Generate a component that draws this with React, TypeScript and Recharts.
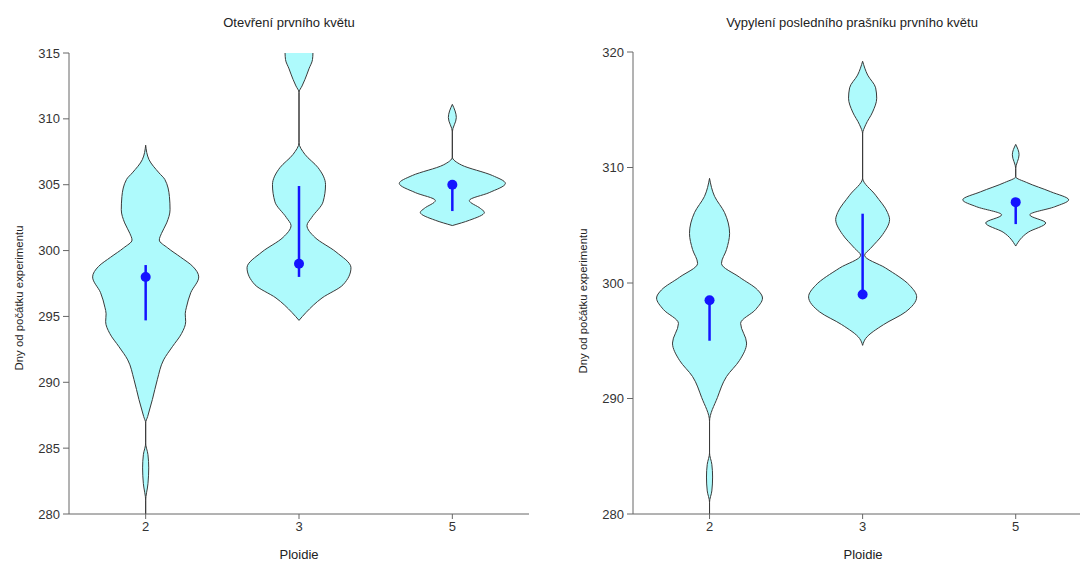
import React from 'react';
import { ComposedChart, Area, Scatter, XAxis, YAxis } from 'recharts';

const ploidyLabels = ['2', '3', '5'];

// violin outlines: [days, half-width in category units]
const openDiploid: [number, number][] = [
  [308.0, 0], [306.9, 0.022], [305.9, 0.087], [305.4, 0.125], [304.1, 0.155], [303.1, 0.159],
  [302.1, 0.137], [301.3, 0.103], [300.8, 0.089], [300.2, 0.144], [299.5, 0.228], [298.8, 0.307],
  [298.0, 0.346], [296.8, 0.294], [295.7, 0.266], [295.2, 0.258], [294.6, 0.261], [293.7, 0.234],
  [292.7, 0.174], [291.7, 0.117], [290.2, 0.076], [288.7, 0.044], [287.4, 0.013], [286.9, 0],
  [285.4, 0], [284.5, 0.015], [283.5, 0.02], [282.3, 0.015], [281.0, 0], [280.0, 0],
];
const openTriploid: [number, number][] = [
  [315.0, 0.091], [314.5, 0.088], [313.8, 0.065], [313.0, 0.039], [312.5, 0.02], [312.0, 0],
  [308.2, 0], [307.3, 0.039], [306.3, 0.124], [305.0, 0.173], [303.7, 0.157], [302.5, 0.082],
  [301.9, 0.052], [301.0, 0.104], [299.9, 0.241], [298.7, 0.339], [297.4, 0.287], [296.4, 0.15],
  [295.3, 0.046], [294.7, 0],
];
const openPentaploid: [number, number][] = [
  [311.1, 0], [310.1, 0.026], [309.0, 0], [307.1, 0], [306.5, 0.059], [305.7, 0.261],
  [305.1, 0.346], [304.4, 0.241], [303.8, 0.111], [303.2, 0.183], [302.9, 0.209], [302.3, 0.111],
  [301.9, 0],
];
const openMedian = [298.0, 299.0, 305.0];
const openQ1 = [294.7, 298.0, 303.0];
const openQ3 = [298.9, 304.9, 305.0];
const openTicks = [280, 285, 290, 295, 300, 305, 310, 315];

const anthDiploid: [number, number][] = [
  [309.06, 0], [307.5, 0.033], [306.1, 0.098], [304.3, 0.131], [302.9, 0.111], [301.7, 0.078],
  [300.5, 0.196], [299.4, 0.314], [298.7, 0.346], [297.7, 0.301], [296.5, 0.203], [294.8, 0.242],
  [293.3, 0.196], [291.9, 0.111], [290.1, 0.052], [288.0, 0], [285.3, 0], [284.3, 0.015],
  [283.2, 0.02], [282.0, 0.015], [281.0, 0], [280.0, 0],
];
const anthTriploid: [number, number][] = [
  [319.2, 0], [318.0, 0.033], [316.9, 0.085], [316.0, 0.092], [314.8, 0.065], [313.7, 0.02],
  [312.9, 0], [309.1, 0], [307.6, 0.085], [306.1, 0.163], [305.5, 0.176], [304.2, 0.131],
  [303.0, 0.052], [302.4, 0.013], [301.3, 0.15], [299.8, 0.307], [298.8, 0.353], [297.5, 0.281],
  [296.4, 0.137], [295.2, 0.02], [294.6, 0],
];
const anthPentaploid: [number, number][] = [
  [312.0, 0], [311.1, 0.022], [309.9, 0], [309.2, 0], [308.7, 0.072], [307.9, 0.229],
  [307.2, 0.346], [306.6, 0.255], [305.9, 0.092], [305.2, 0.196], [304.4, 0.082], [303.2, 0],
];
const anthMedian = [298.5, 299.0, 307.0];
const anthQ1 = [295.0, 299.0, 305.1];
const anthQ3 = [298.5, 306.0, 307.0];
const anthTicks = [280, 290, 300, 310, 320];

const FONT = '"Liberation Sans", Arial, sans-serif';
const FILL = '#aefafc';
const BLUE = '#1414ff';

type PanelProps = {
  title: string;
  shapes: [number, number][][];
  median: number[];
  q1: number[];
  q3: number[];
  ticks: number[];
  left: number;
  width: number;
  top: number;
  xMax: number;
  titleX: number;
  labelY: number;
};

function Panel({ title, shapes, median, q1, q3, ticks, left, width, top, xMax, titleX, labelY }: PanelProps) {
  const violins = shapes.map((s, i) => s.map(([v, w]) => ({ v, range: [i + 1 - w, i + 1 + w] })));
  const dots = median.map((v, i) => ({ x: i + 1, v }));
  const iqr = median.map((_, i) => [{ x: i + 1, v: q1[i] }, { x: i + 1, v: q3[i] }]);
  const plotLeft = left + 69;
  return (
    <>
      <div style={{ position: 'absolute', left: titleX, top: 22, transform: 'translate(-50%,-50%)', fontSize: 13, color: '#222', whiteSpace: 'nowrap' }}>
        {title}
      </div>
      <div style={{ position: 'absolute', left: plotLeft - 50, top: labelY, transform: 'translate(-50%,-50%) rotate(-90deg)', fontSize: 11.4, color: '#222', whiteSpace: 'nowrap' }}>
        Dny od počátku experimentu
      </div>
      <div style={{ position: 'absolute', left: plotLeft + 230, top: 554, transform: 'translate(-50%,-50%)', fontSize: 13, color: '#222', whiteSpace: 'nowrap' }}>
        Ploidie
      </div>
      <div style={{ position: 'absolute', left, top: 0 }}>
        <ComposedChart
          width={width}
          height={562}
          layout="vertical"
          margin={{ top, right: 0, bottom: 18, left: 0 }}
        >
          <XAxis
            type="number"
            dataKey="x"
            domain={[0.5, xMax]}
            ticks={[1, 2, 3]}
            allowDataOverflow
            tickFormatter={(t: number) => ploidyLabels[t - 1] ?? ''}
            height={30}
            tickSize={5}
            tickMargin={3}
            tick={{ fill: '#333', fontSize: 13 }}
            axisLine={{ stroke: '#666' }}
            tickLine={{ stroke: '#666' }}
          />
          <YAxis
            type="number"
            dataKey="v"
            reversed
            domain={[ticks[0], ticks[ticks.length - 1]]}
            ticks={ticks}
            interval={0}
            allowDataOverflow
            width={69}
            tickSize={6}
            tickMargin={3}
            tick={{ fill: '#333', fontSize: 13 }}
            axisLine={{ stroke: '#666' }}
            tickLine={{ stroke: '#666' }}
          />
          {violins.map((d, i) => (
            <Area
              key={'v' + i}
              data={d}
              dataKey="range"
              type="monotone"
              stroke="#3a3a3a"
              strokeWidth={1}
              fill={FILL}
              fillOpacity={1}
              dot={false}
              activeDot={false}
              isAnimationActive={false}
            />
          ))}
          {iqr.map((d, i) => (
            <Scatter
              key={'q' + i}
              data={d}
              line={{ stroke: BLUE, strokeWidth: 2.5 }}
              shape={() => <g />}
              isAnimationActive={false}
            />
          ))}
          <Scatter
            data={dots}
            shape={(p: any) => <circle cx={p.cx} cy={p.cy} r={5} fill={BLUE} />}
            isAnimationActive={false}
          />
        </ComposedChart>
      </div>
    </>
  );
}

export default function App() {
  return (
    <div style={{ position: 'absolute', left: 0, top: 0, width: 1080, height: 562, background: '#fff', fontFamily: FONT, overflow: 'hidden' }}>
      <Panel
        title="Otevření prvního květu"
        shapes={[openDiploid, openTriploid, openPentaploid]}
        median={openMedian}
        q1={openQ1}
        q3={openQ3}
        ticks={openTicks}
        left={0}
        width={529}
        top={53}
        xMax={3.5}
        titleX={289}
        labelY={298}
      />
      <Panel
        title="Vypylení posledního prašníku prvního květu"
        shapes={[anthDiploid, anthTriploid, anthPentaploid]}
        median={anthMedian}
        q1={anthQ1}
        q3={anthQ3}
        ticks={anthTicks}
        left={564}
        width={516}
        top={52}
        xMax={3.42}
        titleX={852}
        labelY={301}
      />
    </div>
  );
}
